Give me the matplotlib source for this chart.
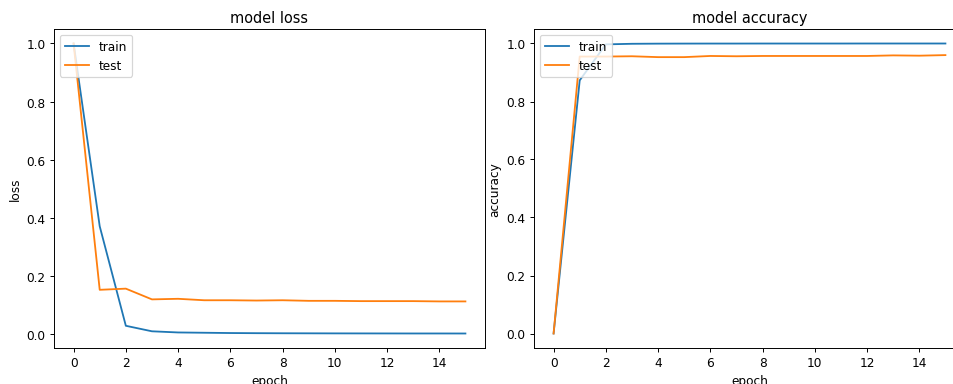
import matplotlib
matplotlib.use("Agg")
import matplotlib.pyplot as plt

epochs = list(range(16))
loss_train = [1.0, 0.37, 0.027, 0.008, 0.004, 0.003, 0.002, 0.0015, 0.0012, 0.001, 0.0008, 0.0007, 0.0006, 0.0005, 0.0005, 0.0004]
loss_test = [1.0, 0.151, 0.155, 0.118, 0.12, 0.115, 0.115, 0.114, 0.115, 0.113, 0.113, 0.112, 0.112, 0.112, 0.111, 0.111]
acc_train = [0.0, 0.873, 0.997, 0.999, 0.9995, 0.9997, 0.9998, 0.9998, 0.9999, 0.9999, 0.9999, 0.9999, 1.0, 1.0, 1.0, 1.0]
acc_test = [0.0, 0.955, 0.955, 0.956, 0.953, 0.953, 0.957, 0.956, 0.957, 0.957, 0.957, 0.957, 0.957, 0.959, 0.958, 0.960]

DPI = 87
W, H = 953, 385
fig = plt.figure(figsize=(W / DPI, H / DPI), dpi=DPI)
ax1 = fig.add_axes([54/W, 36/H, 431/W, 319/H])
ax2 = fig.add_axes([534/W, 36/H, 431/W, 319/H])

ax1.plot(epochs, loss_train, label="train")
ax1.plot(epochs, loss_test, label="test")
ax1.set_title("model loss")
ax1.set_ylabel("loss")
ax1.set_xlabel("epoch")
ax1.legend(loc="upper left")

ax2.plot(epochs, acc_train, label="train")
ax2.plot(epochs, acc_test, label="test")
ax2.set_title("model accuracy")
ax2.set_ylabel("accuracy")
ax2.set_xlabel("epoch")
ax2.legend(loc="upper left")

fig.savefig("out.png", dpi=DPI)
